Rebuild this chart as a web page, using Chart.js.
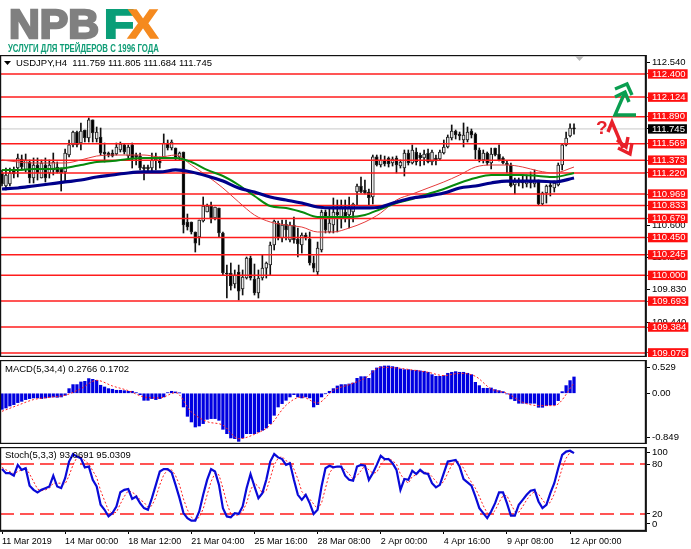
<!DOCTYPE html>
<html><head><meta charset="utf-8">
<style>
html,body{margin:0;padding:0;background:#fff;width:691px;height:549px;overflow:hidden}
canvas{position:absolute;left:0}
.lbl{position:absolute;font:9.5px "Liberation Sans",sans-serif;color:#000;white-space:pre;z-index:5;line-height:12px}
svg{position:absolute;left:0;top:0;z-index:4}
</style>
<script src="https://cdn.jsdelivr.net/npm/chart.js@4"></script>
</head><body>
<canvas id="cPrice" style="top:55px"></canvas>
<canvas id="cMacd" style="top:360px"></canvas>
<canvas id="cStoch" style="top:447px"></canvas>
<div class="lbl" style="left:16px;top:57px">USDJPY,H4  111.759 111.805 111.684 111.745</div>
<div class="lbl" style="left:5px;top:363px">MACD(5,34,4) 0.2766 0.1702</div>
<div class="lbl" style="left:5px;top:449px">Stoch(5,3,3) 93.0691 95.0309</div>
<svg width="691" height="549" xmlns="http://www.w3.org/2000/svg">
 <g font-family="Liberation Sans" font-weight="bold">
  <text x="9" y="38" font-size="41" fill="#808080" stroke="#808080" stroke-width="2.4" textLength="90" lengthAdjust="spacingAndGlyphs">NPB</text>
  <text x="104" y="38" font-size="41" fill="#0a9e78" stroke="#0a9e78" stroke-width="2.2" textLength="30" lengthAdjust="spacingAndGlyphs">F</text>
  <text x="128" y="38" font-size="41" fill="#f58a1f" stroke="#f58a1f" stroke-width="1.6" textLength="30" lengthAdjust="spacingAndGlyphs">X</text>
  <text x="8" y="51.5" font-size="11" fill="#0f9d76" textLength="151" lengthAdjust="spacingAndGlyphs">УСЛУГИ ДЛЯ ТРЕЙДЕРОВ С 1996 ГОДА</text>
 </g>
 <polygon points="4,61 11,61 7.5,65" fill="#000"/>
 <polygon points="575,56 584,56 579.5,61" fill="#b8b8b8"/>
 <g fill="none" stroke="#0a9e50" stroke-width="3.4">
  <path d="M636 115H615L625 92"/>
  <path d="M615 89L627 84L632 95"/>
  <path d="M615 97L625 92L629 102"/>
 </g>
 <g fill="none" stroke="#e8202a" stroke-width="3.4">
  <path d="M608 132L612 122L623 148"/>
  <path d="M618 148L630 154L632 143"/>
  <path d="M617 140L626 147L628 137"/>
 </g>
 <text x="596" y="134" font-family="Liberation Sans" font-weight="bold" font-size="19" fill="#e8202a">?</text>
</svg>
<script>
// ---- candles (USDJPY H4) ----
const open=[111.220,111.065,111.089,111.256,111.279,111.387,111.256,111.351,111.160,111.315,
111.160,111.315,111.220,111.256,111.291,111.268,111.232,111.434,111.554,111.708,
111.577,111.732,111.637,111.852,111.625,111.649,111.470,111.458,111.458,111.446,
111.494,111.554,111.422,111.554,111.434,111.422,111.291,111.291,111.279,111.375,
111.375,111.411,111.577,111.518,111.518,111.411,111.470,110.636,110.636,110.517,
110.457,110.648,110.755,110.826,110.683,110.803,110.505,110.028,110.028,109.897,
110.040,109.837,109.968,110.207,109.956,109.790,109.968,110.087,110.123,110.362,
110.624,110.445,110.612,110.421,110.600,110.433,110.362,110.481,110.433,110.147,
110.040,110.302,110.755,110.517,110.600,110.755,110.683,110.755,110.719,110.755,
110.993,111.065,111.017,110.993,110.934,111.411,111.315,111.375,111.399,111.339,
111.399,111.303,111.279,111.458,111.339,111.470,111.434,111.399,111.458,111.351,
111.399,111.387,111.458,111.530,111.637,111.720,111.685,111.613,111.613,111.720,
111.685,111.494,111.375,111.458,111.339,111.518,111.446,111.399,111.339,111.315,
111.077,111.101,111.136,111.089,111.124,111.089,111.136,110.850,110.981,111.077,
111.041,111.077,111.315,111.554,111.661,111.759];
const high=[111.256,111.279,111.279,111.291,111.446,111.434,111.446,111.375,111.399,111.399,
111.375,111.399,111.375,111.458,111.351,111.279,111.506,111.613,111.720,111.720,
111.816,111.732,111.876,111.852,111.768,111.756,111.577,111.470,111.494,111.577,
111.589,111.565,111.554,111.577,111.458,111.458,111.315,111.315,111.458,111.458,
111.411,111.685,111.613,111.613,111.518,111.470,111.470,110.731,110.636,110.517,
110.660,110.934,110.850,110.874,110.815,110.803,110.517,110.123,110.147,110.064,
110.123,110.064,110.219,110.230,110.135,110.064,110.242,110.159,110.397,110.660,
110.648,110.660,110.660,110.636,110.695,110.564,110.505,110.505,110.517,110.230,
110.397,110.779,110.779,110.803,110.922,110.898,110.898,110.898,110.934,110.862,
111.089,111.172,111.136,111.029,111.434,111.434,111.434,111.422,111.411,111.411,
111.422,111.375,111.494,111.494,111.554,111.518,111.458,111.494,111.506,111.494,
111.434,111.494,111.613,111.673,111.792,111.732,111.708,111.816,111.768,111.744,
111.697,111.518,111.494,111.470,111.518,111.518,111.554,111.411,111.363,111.339,
111.160,111.160,111.184,111.196,111.232,111.256,111.136,110.993,111.077,111.101,
111.124,111.339,111.565,111.708,111.805,111.805];
const low=[111.065,111.017,111.065,111.160,111.172,111.256,111.232,111.101,111.101,111.136,
111.160,111.113,111.160,111.196,111.220,111.005,111.113,111.411,111.530,111.530,
111.494,111.589,111.589,111.589,111.589,111.434,111.351,111.411,111.411,111.434,
111.470,111.446,111.399,111.279,111.315,111.256,111.136,111.232,111.232,111.256,
111.279,111.399,111.494,111.494,111.375,111.375,110.505,110.540,110.493,110.278,
110.362,110.636,110.755,110.624,110.660,110.457,110.004,109.730,109.825,109.849,
109.706,109.766,109.956,109.944,109.766,109.730,109.944,109.968,110.004,110.302,
110.421,110.397,110.421,110.397,110.385,110.219,110.266,110.421,110.123,110.040,
110.004,110.278,110.505,110.505,110.505,110.517,110.564,110.636,110.564,110.636,
110.838,110.981,110.969,110.838,110.850,111.303,111.291,111.303,111.291,111.303,
111.220,111.279,111.184,111.315,111.327,111.315,111.303,111.315,111.339,111.315,
111.315,111.375,111.446,111.518,111.613,111.625,111.613,111.530,111.589,111.637,
111.387,111.351,111.339,111.315,111.268,111.422,111.363,111.327,111.220,111.053,
110.969,111.065,111.041,111.053,111.041,111.053,110.838,110.838,110.862,110.946,
110.993,111.065,111.256,111.542,111.649,111.684];
const close=[111.089,111.196,111.220,111.208,111.399,111.291,111.375,111.160,111.315,111.220,
111.339,111.160,111.315,111.351,111.232,111.220,111.458,111.554,111.708,111.554,
111.720,111.637,111.852,111.697,111.708,111.458,111.446,111.434,111.422,111.530,
111.565,111.470,111.530,111.399,111.411,111.279,111.268,111.268,111.375,111.411,
111.339,111.577,111.518,111.589,111.399,111.458,110.600,110.576,110.517,110.385,
110.660,110.826,110.826,110.683,110.815,110.505,110.028,110.016,109.873,110.004,
109.813,109.980,110.207,109.968,109.790,109.968,110.087,110.147,110.362,110.648,
110.445,110.600,110.540,110.600,110.421,110.374,110.481,110.445,110.147,110.087,
110.326,110.755,110.540,110.624,110.755,110.719,110.803,110.683,110.803,110.850,
111.065,110.993,110.981,110.922,111.411,111.315,111.375,111.327,111.327,111.387,
111.315,111.351,111.458,111.339,111.494,111.351,111.399,111.446,111.351,111.470,
111.363,111.470,111.530,111.649,111.720,111.673,111.661,111.673,111.708,111.673,
111.494,111.375,111.458,111.339,111.446,111.434,111.375,111.339,111.315,111.065,
111.113,111.136,111.101,111.136,111.101,111.136,110.850,110.981,111.065,111.053,
111.101,111.315,111.554,111.637,111.756,111.745];
// ---- moving averages, read at every fourth bar ----
const maIdx=[0,4,8,12,16,20,24,28,32,36,40,44,48,52,56,60,64,68,72,76,80,84,88,92,96,100,104,108,112,116,120,124,128,132,136,140,145];
const maBlue=[111.029,111.041,111.065,111.089,111.113,111.136,111.172,111.196,111.220,111.232,111.232,111.256,111.232,111.184,111.124,111.041,110.993,110.934,110.898,110.862,110.815,110.803,110.803,110.803,110.815,110.874,110.922,110.946,110.981,111.041,111.065,111.101,111.124,111.124,111.124,111.113,111.160];
const maGreen=[111.256,111.256,111.268,111.268,111.279,111.315,111.351,111.363,111.387,111.399,111.399,111.399,111.351,111.256,111.184,111.077,110.946,110.826,110.803,110.755,110.695,110.695,110.695,110.719,110.791,110.862,110.910,110.969,111.029,111.101,111.160,111.196,111.196,111.196,111.184,111.172,111.220];
const maRed=[111.375,111.351,111.339,111.339,111.339,111.375,111.422,111.434,111.434,111.434,111.411,111.434,111.315,111.184,111.041,110.874,110.719,110.636,110.600,110.576,110.517,110.517,110.564,110.636,110.743,110.898,110.969,111.041,111.113,111.196,111.291,111.315,111.315,111.291,111.244,111.220,111.291];
// ---- price levels and axis ticks ----
const levels=[112.400,112.124,111.890,111.569,111.373,111.220,110.969,110.833,110.679,110.450,110.245,110.000,109.693,109.384,109.076];
const priceTicks=[112.540,110.600,110.210,109.830,109.440];
const currentPrice=111.745;
// ---- MACD ----
const macdHist=[-.271,-.249,-.215,-.192,-.158,-.136,-.107,-.090,-.079,-.079,
-.090,-.079,-.068,-.062,-.068,-.062,-.034,.079,.147,.147,
.192,.203,.249,.237,.220,.136,.107,.079,.068,.051,
.051,.045,.034,.034,.011,-.023,-.119,-.119,-.090,-.107,
-.090,-.062,.011,.034,.023,.006,-.232,-.390,-.486,-.571,
-.554,-.514,-.441,-.429,-.429,-.458,-.610,-.684,-.757,-.768,
-.814,-.757,-.684,-.684,-.684,-.655,-.627,-.588,-.514,-.373,
-.232,-.175,-.119,-.062,-.023,-.062,-.079,-.062,-.079,-.232,
-.192,-.062,-.006,.034,.079,.124,.147,.147,.158,.175,
.254,.282,.282,.254,.384,.429,.452,.463,.463,.452,
.441,.412,.401,.401,.390,.390,.379,.373,.356,.316,
.288,.288,.299,.339,.356,.367,.356,.356,.339,.316,
.186,.130,.085,.085,.090,.062,.045,.028,-.011,-.096,
-.124,-.169,-.169,-.169,-.169,-.169,-.237,-.237,-.209,-.198,
-.198,-.124,.028,.130,.215,.2766];
const macdSignal=[-.305,-.203,-.107,-.068,-.034,.079,.220,.124,.045,-.062,-.079,.011,-.316,-.480,-.540,-.770,-.695,-.540,-.203,-.062,-.164,.051,.147,.254,.440,.430,.395,.356,.300,.339,.288,.073,0,-.153,-.209,-.209,.1702];
const macdTickValues=[.434,0,-.753];
const macdTickLabels=["0.529","0.00","-0.849"];
// ---- Stochastic ----
const stochMain=[74,69,69,66,79,73,75,54,49,46,
49,51,53,66,53,51,63,83,92,89,
87,76,77,61,53,31,25,17,21,29,
46,49,50,38,41,33,27,25,39,55,
71,74,74,70,55,39,21,15,12,12,
23,43,61,74,71,55,27,17,16,21,
20,29,51,68,53,39,45,61,83,92,
88,86,79,81,61,43,37,43,33,20,
25,53,75,78,76,77,77,66,61,60,
77,79,78,61,69,79,90,86,86,81,
73,49,62,61,72,68,73,69,68,57,
52,55,69,83,84,85,77,62,58,54,
41,27,21,15,23,33,46,46,33,18,
18,31,37,43,48,49,35,27,31,45,
57,75,91,95,96,93.07];
const stochSignal=[76,73,71,68,71,73,76,68,59,50,
48,49,51,57,57,57,56,66,79,88,
89,84,80,72,64,48,36,24,21,22,
32,41,48,46,43,37,34,28,30,40,
55,67,73,73,66,55,38,25,16,13,
16,26,43,59,69,67,51,33,20,18,
19,23,33,49,57,53,45,48,63,79,
87,89,84,82,74,62,47,41,38,32,
26,33,51,69,76,77,76,73,68,62,
66,72,78,73,69,70,79,85,87,84,
80,68,61,57,65,67,71,70,70,65,
59,55,59,69,79,84,82,75,66,58,
51,41,30,21,20,24,34,42,42,32,
23,22,29,37,43,47,44,37,31,34,
44,59,75,87,94,95.03];
const stochTickValues=[93.5,80,20,8];
const stochTickLabels=["100","80","20","0"];
const stochLevels=[80,20];
// ---- time axis ----
const timeTicks=[0,16,32,48,64,80,96,112,128,144];
const timeLabels=["11 Mar 2019","14 Mar 00:00","18 Mar 12:00","21 Mar 04:00","25 Mar 16:00","28 Mar 08:00","2 Apr 00:00","4 Apr 16:00","9 Apr 08:00","12 Apr 00:00"];

const FONT={family:'"Liberation Sans",sans-serif',size:9.5};
const XFONT={family:'"Liberation Sans",sans-serif',size:9};
const xMin=-0.507,xMax=163.25;
const frame={id:'frame',afterDraw(c){const a=c.chartArea,g=c.ctx;g.save();g.strokeStyle='#111';g.lineWidth=1.4;
  g.strokeRect(a.left+.5,a.top+.5,a.right-a.left-1,a.bottom-a.top-1);g.restore();}};
Chart.defaults.animation=false;
Chart.defaults.font=FONT;
Chart.defaults.color='#000';
const noLegend={legend:{display:false},tooltip:{enabled:false}};
const pts=(idx,vals)=>idx.map((x,i)=>({x,y:vals[i]}));
const bars=open.map((_,i)=>i);
const yAxis=(min,max,values,extra)=>Object.assign({
  position:'right',min,max,
  afterBuildTicks(s){s.ticks=values.map(v=>({value:v}));},
  afterFit(s){s.width=45;s.paddingTop=0;s.paddingBottom=0;},
  border:{color:'#333',width:1},
  grid:{drawOnChartArea:false,drawTicks:true,tickLength:4,tickColor:'#000'},
},extra);
const xHidden={type:'linear',min:xMin,max:xMax,offset:false,display:false,grid:{display:false}};

// price panel
const isLevel=v=>levels.includes(v), isCur=v=>v===currentPrice;
const priceAll=[...priceTicks,...levels,currentPrice];
function sized(id,h){const c=document.getElementById(id);c.width=691;c.height=h;c.style.width='691px';c.style.height=h+'px';return c;}
new Chart(sized('cPrice',302),{type:'bar',plugins:[frame],data:{datasets:[
  {type:'line',data:[{x:xMin,y:currentPrice},{x:xMax,y:currentPrice}],borderColor:'#c8c8c8',borderWidth:1,pointRadius:0,order:9},
  {label:'wick',data:bars.map(i=>({x:i,y:[low[i],high[i]]})),backgroundColor:'#111',barThickness:1,grouped:false,order:8},
  {label:'body',data:bars.map(i=>({x:i,y:[open[i],close[i]]})),barThickness:3,grouped:false,borderSkipped:false,borderWidth:1,borderColor:'#222',
    backgroundColor:bars.map(i=>close[i]>=open[i]?'#e8e8e8':'#000'),order:7},
  ...levels.map(L=>({type:'line',data:[{x:xMin,y:L},{x:xMax,y:L}],borderColor:'#ff1c1c',borderWidth:1.5,pointRadius:0,order:5})),
  {type:'line',label:'MA red',data:pts(maIdx,maRed),borderColor:'#e53a3a',borderWidth:1,pointRadius:0,cubicInterpolationMode:'monotone',order:3},
  {type:'line',label:'MA green',data:pts(maIdx,maGreen),borderColor:'#078a0c',borderWidth:2,pointRadius:0,cubicInterpolationMode:'monotone',order:2},
  {type:'line',label:'MA blue',data:pts(maIdx,maBlue),borderColor:'#00008b',borderWidth:3.2,pointRadius:0,cubicInterpolationMode:'monotone',order:1},
]},options:{responsive:false,plugins:noLegend,layout:{padding:0},
  scales:{x:xHidden,y:yAxis(109.027,112.626,priceAll,{
    grid:{drawOnChartArea:false,drawTicks:true,tickLength:4,tickColor:c=>isLevel(c.tick.value)?'#ff1c1c':'#000'},
    ticks:{autoSkip:false,padding:2,font:FONT,
      callback:v=>v.toFixed(3),
      color:c=>(isLevel(c.tick.value)||isCur(c.tick.value))?'#fff':'#000',
      showLabelBackdrop:c=>isLevel(c.tick.value)||isCur(c.tick.value),
      backdropColor:c=>isCur(c.tick.value)?'#000':'#ff1010',
      backdropPadding:{left:4,right:2,top:-1,bottom:-1}}})}}});

// MACD panel
new Chart(sized('cMacd',84),{type:'bar',plugins:[frame],data:{datasets:[
  {label:'MACD',data:bars.map(i=>({x:i,y:macdHist[i]})),backgroundColor:'#0000e0',barThickness:2.6,order:2},
  {type:'line',label:'Signal',data:pts(maIdx,macdSignal),borderColor:'#ff2020',borderWidth:1,borderDash:[2,2],pointRadius:0,cubicInterpolationMode:'monotone',order:1},
]},options:{responsive:false,plugins:noLegend,layout:{padding:0},
  scales:{x:xHidden,y:yAxis(-.859,.564,macdTickValues,{ticks:{autoSkip:false,padding:2,font:FONT,
     callback:v=>macdTickLabels[macdTickValues.indexOf(v)]}})}}});

// Stochastic panel
new Chart(sized('cStoch',102),{type:'bar',plugins:[frame],data:{datasets:[
  ...stochLevels.map(L=>({type:'line',data:[{x:xMin,y:L},{x:xMax,y:L}],borderColor:'#ff1c1c',borderWidth:1.5,borderDash:[14,6],pointRadius:0,order:3})),
  {type:'line',label:'Signal',data:bars.map(i=>({x:i,y:stochSignal[i]})),borderColor:'#ff2020',borderWidth:1,borderDash:[2,2],pointRadius:0,order:2},
  {type:'line',label:'Stoch',data:bars.map(i=>({x:i,y:stochMain[i]})),borderColor:'#0a0ad8',borderWidth:2.2,pointRadius:0,order:1},
]},options:{responsive:false,plugins:noLegend,layout:{padding:0},
  scales:{
    x:{type:'linear',min:xMin,max:xMax,offset:false,
      afterBuildTicks(s){s.ticks=timeTicks.map(v=>({value:v}));},
      afterFit(s){s.height=18;s.paddingLeft=0;s.paddingRight=0;},
      border:{color:'#333'},
      grid:{drawOnChartArea:false,drawTicks:true,tickLength:3,tickColor:'#000',offset:false},
      ticks:{autoSkip:false,maxRotation:0,minRotation:0,align:'start',padding:2,font:XFONT,
        callback:v=>timeLabels[timeTicks.indexOf(v)]}},
    y:yAxis(-.5,100.5,stochTickValues,{ticks:{autoSkip:false,padding:2,font:FONT,
      callback:v=>stochTickLabels[stochTickValues.indexOf(v)]}})}}});
</script>
</body></html>
